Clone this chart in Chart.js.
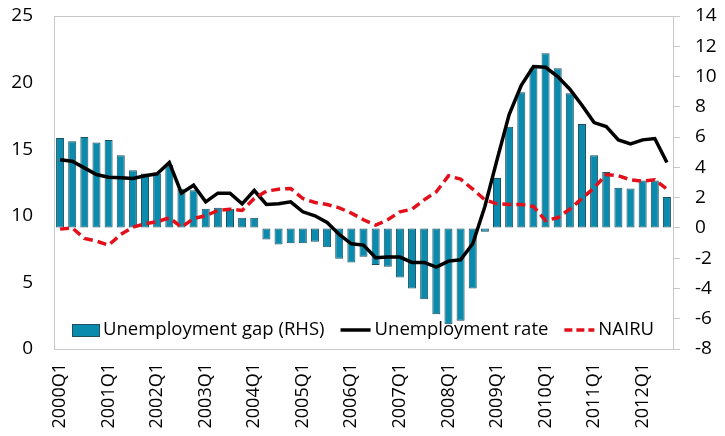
<!DOCTYPE html>
<html>
<head>
<meta charset="utf-8">
<script src="https://cdn.jsdelivr.net/npm/chart.js@4"></script>
<style>
  html, body { margin: 0; padding: 0; background: #fff; }
  #wrap { width: 725px; height: 436px; }
</style>
</head>
<body>
<div id="wrap"><canvas id="chart" width="725" height="436"></canvas></div>
<script>
// Quarters 2000Q1 - 2012Q3
const years = [2000, 2001, 2002, 2003, 2004, 2005, 2006, 2007, 2008, 2009, 2010, 2011, 2012];
const quarters = [];
years.forEach((y) => {
  for (let q = 1; q <= 4; q++) quarters.push(y + "Q" + q);
});
quarters.length = 51;

// Unemployment gap, right axis (pp)
const unemploymentGap = [
  5.94, 5.72, 6.0, 5.65, 5.81, 4.8, 3.81, 3.59, 3.59, 4.18,
  2.58, 2.49, 1.26, 1.33, 1.26, 0.67, 0.67, -0.76, -1.09, -1.02,
  -1.02, -0.91, -1.28, -2.03, -2.29, -1.9, -2.45, -2.56, -3.28, -4.0,
  -4.71, -5.7, -6.36, -6.14, -4.0, -0.25, 3.3, 6.69, 8.97, 10.55,
  11.54, 10.55, 8.9, 6.86, 4.8, 3.7, 2.65, 2.6, 3.13, 3.13, 2.05
];

// Unemployment rate, left axis (%)
const unemploymentRate = [
  14.2, 14.1, 13.6, 13.1, 12.9, 12.85, 12.8, 13.0, 13.15, 14.0,
  11.7, 12.3, 11.05, 11.7, 11.7, 10.9, 11.9, 10.85, 10.9, 11.05,
  10.3, 10.0, 9.5, 8.6, 7.9, 7.8, 6.85, 6.9, 6.9, 6.5,
  6.5, 6.15, 6.6, 6.7, 7.9, 10.7, 14.2, 17.6, 19.8, 21.2,
  21.15, 20.45, 19.5, 18.3, 17.0, 16.7, 15.7, 15.4, 15.7, 15.8, 14.0
];

// NAIRU, left axis (%)
const nairu = [
  9.0, 9.1, 8.3, 8.1, 7.8, 8.6, 9.15, 9.4, 9.55, 9.85,
  9.15, 9.8, 10.0, 10.4, 10.5, 10.4, 11.3, 11.85, 12.0, 12.05,
  11.3, 11.0, 10.85, 10.6, 10.2, 9.7, 9.3, 9.7, 10.3, 10.5,
  11.2, 11.8, 13.0, 12.75, 12.0, 11.2, 10.9, 10.85, 10.85, 10.7,
  9.65, 9.85, 10.5, 11.3, 12.1, 13.1, 13.0, 12.7, 12.6, 12.7, 12.0
];

const BAR_COLOR = "#0a8aac";
const BAR_EDGE = "#1d4f5e";
const RED = "#e3101b";
const FONT = "'Open Sans', sans-serif";

Chart.defaults.font.family = FONT;
Chart.defaults.color = "#000";

// gray frame round the plot area
const framePlugin = {
  id: "frame",
  beforeDatasetsDraw(chart) {
    const { ctx, chartArea: a } = chart;
    ctx.save();
    ctx.strokeStyle = "#c8c8c8";
    ctx.lineWidth = 1;
    ctx.strokeRect(Math.round(a.left) + 0.5, Math.round(a.top) + 0.5,
      Math.round(a.right - a.left), Math.round(a.bottom - a.top));
    ctx.restore();
  }
};

// legend drawn inside the plot, along the bottom
const legendPlugin = {
  id: "innerLegend",
  afterDraw(chart) {
    const ctx = chart.ctx;
    const y = 330;
    let x = 72;
    ctx.save();
    ctx.font = "18.5px " + FONT;
    ctx.textBaseline = "middle";

    // bar item
    ctx.fillStyle = BAR_COLOR;
    ctx.fillRect(x, y - 6, 27, 12);
    ctx.strokeStyle = BAR_EDGE;
    ctx.lineWidth = 1;
    ctx.strokeRect(x + 0.5, y - 5.5, 27, 12);
    x += 31;
    ctx.fillStyle = "#000";
    let t = "Unemployment gap (RHS)";
    ctx.fillText(t, x, y);
    x += ctx.measureText(t).width + 16;

    // black line item
    ctx.strokeStyle = "#000";
    ctx.lineWidth = 3.5;
    ctx.beginPath();
    ctx.moveTo(x, y);
    ctx.lineTo(x + 30, y);
    ctx.stroke();
    x += 34;
    t = "Unemployment rate";
    ctx.fillText(t, x, y);
    x += ctx.measureText(t).width + 16;

    // red dashed item
    ctx.strokeStyle = RED;
    ctx.setLineDash([8, 4]);
    ctx.beginPath();
    ctx.moveTo(x, y);
    ctx.lineTo(x + 30, y);
    ctx.stroke();
    ctx.setLineDash([]);
    x += 34;
    ctx.fillText("NAIRU", x, y);
    ctx.restore();
  }
};

// keep the plot box at fixed edges
function fixVertical(width) {
  return (s) => {
    s.width = width;
    s.paddingTop = 0;
    s.paddingBottom = 0;
  };
}

new Chart(document.getElementById("chart").getContext("2d"), {
  type: "bar",
  data: {
    labels: quarters,
    datasets: [
      {
        type: "line",
        label: "NAIRU",
        data: nairu,
        yAxisID: "y",
        borderColor: RED,
        borderWidth: 3.5,
        borderDash: [9, 5],
        pointRadius: 0,
        tension: 0,
        order: 1
      },
      {
        type: "line",
        label: "Unemployment rate",
        data: unemploymentRate,
        yAxisID: "y",
        borderColor: "#000",
        borderWidth: 3.5,
        pointRadius: 0,
        tension: 0,
        order: 2
      },
      {
        type: "bar",
        label: "Unemployment gap (RHS)",
        data: unemploymentGap,
        yAxisID: "y1",
        backgroundColor: BAR_COLOR,
        borderColor: BAR_EDGE,
        borderWidth: 1,
        borderSkipped: false,
        categoryPercentage: 1,
        barPercentage: 0.66,
        order: 3
      }
    ]
  },
  options: {
    responsive: false,
    animation: false,
    layout: { padding: { top: 16, left: 0, right: 0, bottom: 0 } },
    plugins: {
      legend: { display: false },
      tooltip: { enabled: false }
    },
    scales: {
      x: {
        grid: { display: false, drawTicks: false },
        border: { display: false },
        ticks: {
          autoSkip: false,
          maxRotation: 90,
          minRotation: 90,
          padding: 14,
          font: { size: 18 },
          callback: function (v, i) {
            const lab = quarters[i];
            return lab.endsWith("Q1") ? lab : "";
          }
        },
        afterFit: (s) => {
          s.height = 87;
          s.paddingLeft = 0;
          s.paddingRight = 0;
        }
      },
      y: {
        position: "left",
        min: 0,
        max: 25,
        grid: { display: false, drawTicks: false },
        border: { display: false },
        ticks: { stepSize: 5, padding: 21, font: { size: 19 } },
        afterFit: fixVertical(54)
      },
      y1: {
        position: "right",
        min: -8,
        max: 14,
        grid: {
          display: true,
          drawOnChartArea: false,
          drawTicks: true,
          tickLength: 7,
          color: "#c8c8c8"
        },
        border: { display: true, color: "#c8c8c8" },
        ticks: { stepSize: 2, padding: 15, font: { size: 19 } },
        afterFit: fixVertical(52)
      }
    }
  },
  plugins: [framePlugin, legendPlugin]
});
</script>
</body>
</html>
